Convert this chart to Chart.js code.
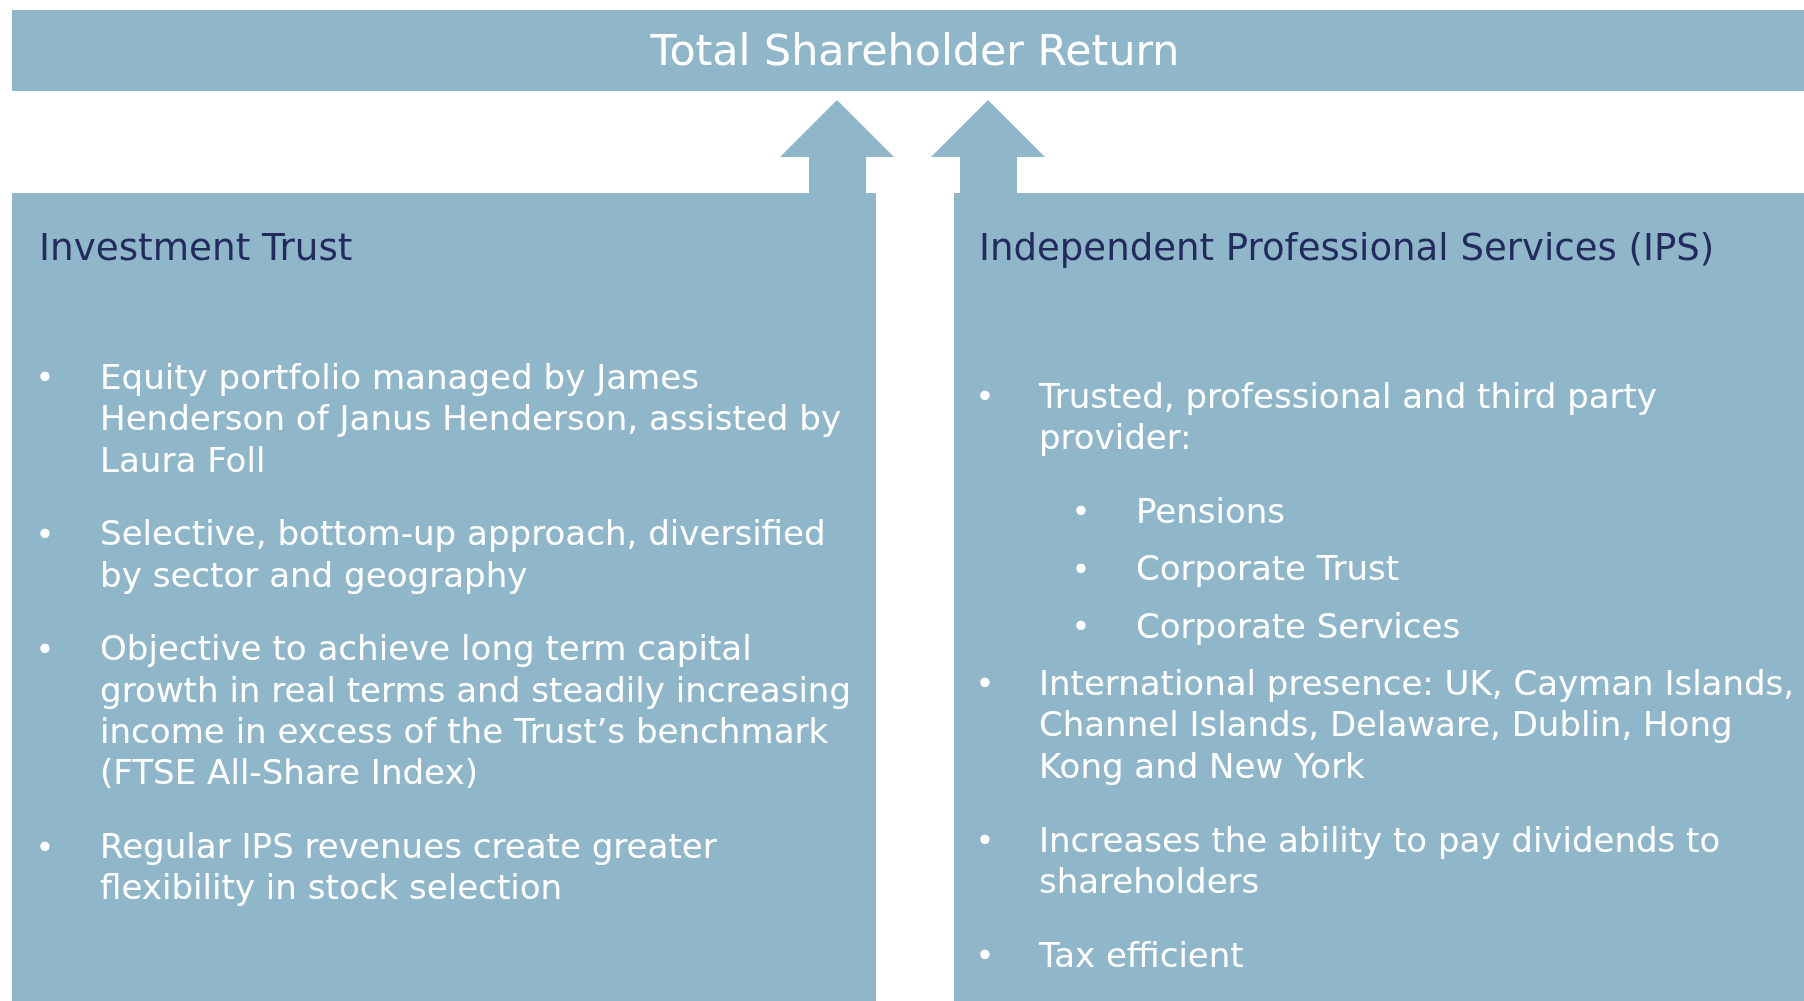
<!DOCTYPE html>
<html>
<head>
<meta charset="utf-8">
<script src="https://cdn.jsdelivr.net/npm/chart.js@4.4.1/dist/chart.umd.min.js"></script>
<style>
  html, body { margin: 0; padding: 0; background: #ffffff; }
  #wrap { width: 1804px; height: 1001px; position: relative; }
</style>
</head>
<body>
<div id="wrap"><canvas id="diagram"></canvas></div>
<script>
// content of the diagram
const mainTitle = 'Total Shareholder Return';
const sectionTitles = ['Investment Trust', 'Independent Professional Services (IPS)'];

const trustBullets = [
    ['Equity portfolio managed by James', 'Henderson of Janus Henderson, assisted by', 'Laura Foll'],
    ['Selective, bottom-up approach, diversified', 'by sector and geography'],
    ['Objective to achieve long term capital', 'growth in real terms and steadily increasing', 'income in excess of the Trust\u2019s benchmark', '(FTSE All-Share Index)'],
    ['Regular IPS revenues create greater', 'flexibility in stock selection']
];
const ipsBullets = [
    ['Trusted, professional and third party', 'provider:'],
    ['International presence: UK, Cayman Islands,', 'Channel Islands, Delaware, Dublin, Hong', 'Kong and New York'],
    ['Increases the ability to pay dividends to', 'shareholders'],
    ['Tax efficient']
];
const ipsSubBullets = ['Pensions', 'Corporate Trust', 'Corporate Services'];

const FILL = '#8fb7c9';
const NAVY = '#232b5e';
const FONT = '"DejaVu Sans", sans-serif';

document.addEventListener('DOMContentLoaded', function() {
    const ctx = document.getElementById('diagram');

    const diagramPlugin = {
        id: 'diagram',
        beforeDatasetsDraw: function(chart) {
            const c = chart.ctx;
            const xs = chart.scales.x;
            const ys = chart.scales.y;
            const X = v => xs.getPixelForValue(v);
            const Y = v => ys.getPixelForValue(v);

            function rect(x0, y0, x1, y1) {
                c.fillRect(X(x0), Y(y0), X(x1) - X(x0), Y(y1) - Y(y0));
            }
            function arrow(cx) {
                c.beginPath();
                c.moveTo(X(cx), Y(100));
                c.lineTo(X(cx + 57), Y(157));
                c.lineTo(X(cx + 29), Y(157));
                c.lineTo(X(cx + 29), Y(196));
                c.lineTo(X(cx - 28), Y(196));
                c.lineTo(X(cx - 28), Y(157));
                c.lineTo(X(cx - 57), Y(157));
                c.closePath();
                c.fill();
            }
            function text(str, x, y, color, size, align) {
                c.fillStyle = color;
                c.font = size + 'px ' + FONT;
                c.textAlign = align || 'left';
                c.textBaseline = 'middle';
                c.fillText(str, X(x), Y(y + 3));
            }

            c.save();
            c.fillStyle = FILL;
            rect(12, 10, 1804, 91);
            rect(12, 193, 876, 1001);
            rect(954, 193, 1804, 1001);
            arrow(837);
            arrow(988);

            text(mainTitle, 915, 51, '#ffffff', 42.8, 'center');
            text(sectionTitles[0], 39, 247, NAVY, 37.3);
            text(sectionTitles[1], 979, 247, NAVY, 37.1);

            const lineH = 41.4;
            const gap = 73.6;

            // left column
            let y = 377;
            trustBullets.forEach(function(lines) {
                text('\u2022', 45, y, '#ffffff', 32, 'center');
                lines.forEach(function(l) {
                    text(l, 100, y, '#ffffff', 34.1);
                    y += lineH;
                });
                y += gap - lineH;
            });

            // right column
            function ipsBullet(lines, yStart) {
                text('\u2022', 985, yStart, '#ffffff', 32, 'center');
                lines.forEach(function(l, i) {
                    text(l, 1039, yStart + i * lineH, '#ffffff', 34);
                });
            }
            ipsBullet(ipsBullets[0], 396);
            ipsSubBullets.forEach(function(s, i) {
                const yy = 511 + i * 57.5;
                text('\u2022', 1081, yy, '#ffffff', 32, 'center');
                text(s, 1136, yy, '#ffffff', 34);
            });
            ipsBullet(ipsBullets[1], 683);
            ipsBullet(ipsBullets[2], 840);
            ipsBullet(ipsBullets[3], 955);
            c.restore();
        }
    };

    new Chart(ctx, {
        type: 'scatter',
        data: { datasets: [{ data: [], pointRadius: 0 }] },
        options: {
            responsive: true,
            maintainAspectRatio: false,
            animation: false,
            layout: { padding: 0 },
            plugins: { legend: { display: false }, tooltip: { enabled: false } },
            scales: {
                x: { type: 'linear', min: 0, max: 1804, display: false },
                y: { type: 'linear', min: 0, max: 1001, reverse: true, display: false }
            }
        },
        plugins: [diagramPlugin]
    });
});
</script>
</body>
</html>
